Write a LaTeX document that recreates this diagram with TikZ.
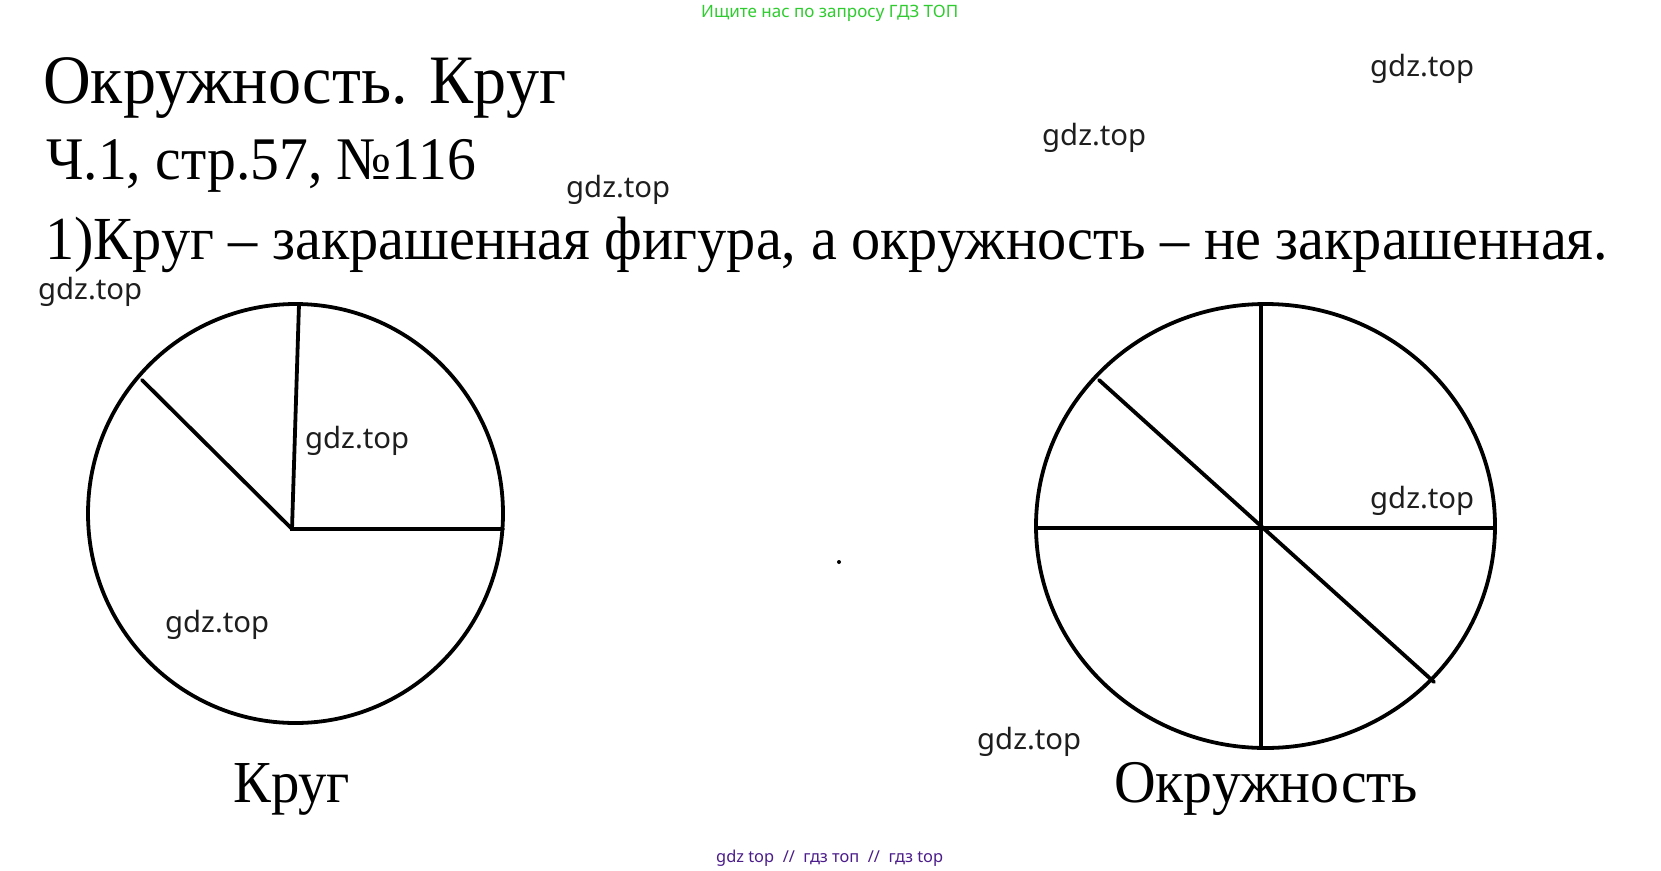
\documentclass[tikz,border=0pt]{standalone}
\usepackage{fontspec}
\usepackage{graphicx}
\setmainfont{Liberation Serif}
\newfontfamily\wmfont{Noto Sans}
\definecolor{hdrgreen}{HTML}{2FCC2F}
\definecolor{ftrpurple}{HTML}{4B1C8A}
\definecolor{wmgray}{HTML}{1E1E1E}
\newcommand{\gdzmark}{\resizebox{104pt}{!}{\wmfont\fontsize{26}{30}\selectfont gdz.top}}
\newcommand{\serifline}[2]{\scalebox{1}[1.05]{\resizebox{#1}{!}{\fontsize{60}{72}\selectfont #2}}}
\tikzset{
  fig/.style={line width=3.8pt, draw=black, line cap=round},
  wmark/.style={anchor=base west, inner sep=0pt, text=wmgray},
  serif/.style={anchor=base west, inner sep=0pt},
}
\begin{document}
\begin{tikzpicture}[x=1pt,y=-1pt]
\useasboundingbox[fill=white] (0,0) rectangle (1661,870);

% header / footer
\node[serif, text=hdrgreen] (hdr) at (701,17) {\resizebox{257pt}{!}{\wmfont\fontsize{16}{20}\selectfont Ищите нас по запросу ГДЗ ТОП}};
\node[serif, text=ftrpurple] (ftr) at (716,862) {\resizebox{227pt}{!}{\wmfont\fontsize{18}{22}\selectfont gdz top\ \ //\ \ гдз топ\ \ //\ \ гдз top}};

% titles
\node[serif] (title) at (43,103) {\serifline{523pt}{Окружность. Круг}};
\node[serif] (sub) at (46,179) {\serifline{430pt}{Ч.1, стр.57, №116}};
\node[serif] (task) at (45,259) {\serifline{1563pt}{1)Круг – закрашенная фигура, а окружность – не закрашенная.}};

% left figure: Круг
\draw[fig] (295.5,513.5) ellipse [x radius=207.5pt, y radius=209.5pt];
\coordinate (kc) at (292,529);
\coordinate (kt) at (299,304);
\coordinate (kd) at (142,380);
\coordinate (kr) at (503,529);
\draw[fig] (kt) -- (kc) -- (kr);
\draw[fig] (kd) -- (kc);
\node[serif] (krug) at (233,802) {\serifline{117pt}{Круг}};

% right figure: Окружность
\draw[fig] (1265.5,526) ellipse [x radius=229.5pt, y radius=222pt];
\coordinate (oc) at (1261,528);
\coordinate (ot) at (1261,304);
\coordinate (ob) at (1261,748);
\coordinate (ol) at (1036,528);
\coordinate (or) at (1495,528);
\coordinate (od1) at (1099,380);
\coordinate (od2) at (1434,682);
\draw[fig] (ot) -- (ob);
\draw[fig] (ol) -- (or);
\draw[fig] (od1) -- (od2);
\node[serif] (okr) at (1114,802) {\serifline{304pt}{Окружность}};

% stray dot
\fill (839,562) circle (2pt);

% watermarks
\node[wmark] (w1) at (1370,76) {\gdzmark};
\node[wmark] (w2) at (1042,145) {\gdzmark};
\node[wmark] (w3) at (566,197) {\gdzmark};
\node[wmark] (w4) at (38,299) {\gdzmark};
\node[wmark] (w5) at (305,448) {\gdzmark};
\node[wmark] (w6) at (165,632) {\gdzmark};
\node[wmark] (w7) at (1370,508) {\gdzmark};
\node[wmark] (w8) at (977,749) {\gdzmark};
\end{tikzpicture}
\end{document}
